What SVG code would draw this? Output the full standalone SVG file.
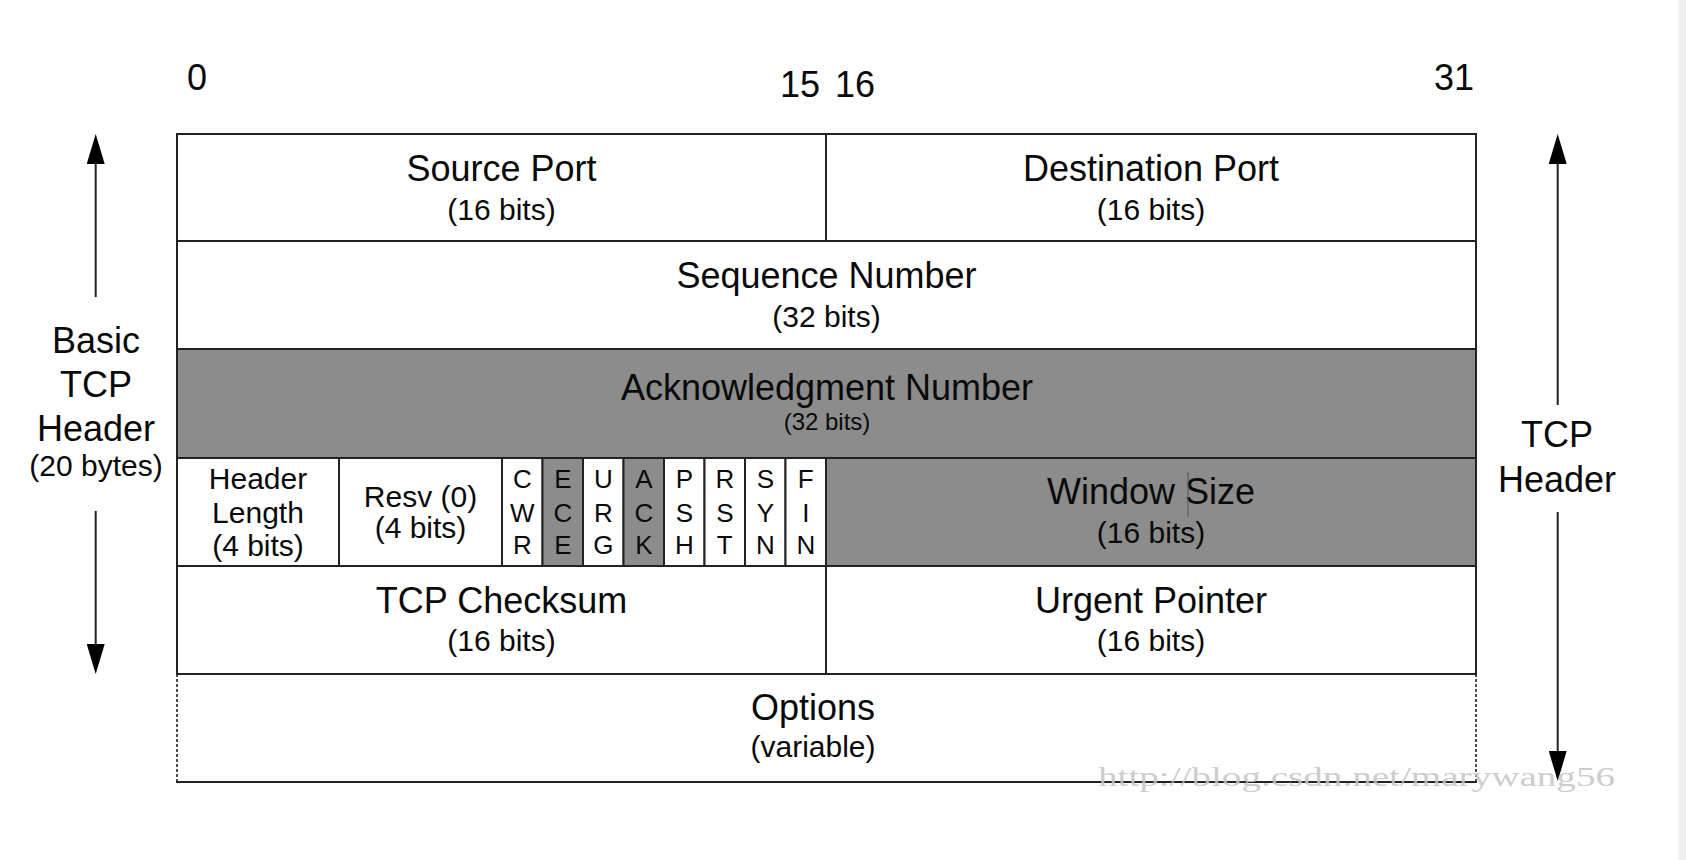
<svg xmlns="http://www.w3.org/2000/svg" width="1686" height="860" viewBox="0 0 1686 860">
<style>
text{font-family:"Liberation Sans",Arial,sans-serif;fill:#0a0a0a;text-anchor:middle}
.lbl{font-size:36px}
.sub{font-size:30px}
.sm{font-size:24px}
.cell{font-size:30px}
.flag{font-size:26px}
.w{fill:#fff;stroke:#222;stroke-width:2}
.g{fill:#8c8c8c;stroke:#222;stroke-width:2}
.ln{stroke:#222;stroke-width:2;fill:none}
.dash{stroke:#222;stroke-width:1.6;stroke-dasharray:3 2;fill:none}
.wm{font-family:"Liberation Serif","Times New Roman",serif;font-size:27px;fill:#c4c4c4;fill-opacity:0.85;text-anchor:start}
</style>
<defs>
<marker id="ah" viewBox="0 0 30 18" refX="26" refY="9" markerWidth="30" markerHeight="18" markerUnits="userSpaceOnUse" orient="auto">
<path d="M0,0 L30,9 L0,18 z" fill="#000"/>
</marker>
</defs>
<rect x="0" y="0" width="1686" height="860" fill="#fff"/>
<rect x="1678" y="0" width="8" height="860" fill="#f0f0f0"/>

<g id="bit-labels">
<text class="lbl" x="197" y="90">0</text>
<text class="lbl" x="800" y="97">15</text>
<text class="lbl" x="855" y="97">16</text>
<text class="lbl" x="1454" y="90">31</text>
</g>

<g id="source-port">
<rect class="w" x="177" y="134" width="649" height="107"/>
<text class="lbl" x="501.5" y="181">Source Port</text>
<text class="sub" x="501.5" y="220">(16 bits)</text>
</g>
<g id="destination-port">
<rect class="w" x="826" y="134" width="650" height="107"/>
<text class="lbl" x="1151" y="181">Destination Port</text>
<text class="sub" x="1151" y="220">(16 bits)</text>
</g>
<g id="sequence-number">
<rect class="w" x="177" y="241" width="1299" height="108"/>
<text class="lbl" x="826.5" y="288">Sequence Number</text>
<text class="sub" x="826.5" y="327">(32 bits)</text>
</g>
<g id="acknowledgment-number">
<rect class="g" x="177" y="349" width="1299" height="109"/>
<text class="lbl" x="827" y="400">Acknowledgment Number</text>
<text class="sm" x="827" y="430">(32 bits)</text>
</g>
<g id="header-length">
<rect class="w" x="177" y="458" width="162" height="108"/>
<text class="cell" x="258" y="489">Header</text>
<text class="cell" x="258" y="523">Length</text>
<text class="cell" x="258" y="556">(4 bits)</text>
</g>
<g id="reserved">
<rect class="w" x="339" y="458" width="163" height="108"/>
<text class="cell" x="420.5" y="507">Resv (0)</text>
<text class="cell" x="420.5" y="538">(4 bits)</text>
</g>
<g id="flag-cwr">
<rect class="w" x="502" y="458" width="40.5" height="108"/>
<text class="flag" x="522.3" y="488">C</text><text class="flag" x="522.3" y="521.5">W</text><text class="flag" x="522.3" y="554">R</text>
</g>
<g id="flag-ece">
<rect class="g" x="542.5" y="458" width="40.5" height="108"/>
<text class="flag" x="562.8" y="488">E</text><text class="flag" x="562.8" y="521.5">C</text><text class="flag" x="562.8" y="554">E</text>
</g>
<g id="flag-urg">
<rect class="w" x="583" y="458" width="40.5" height="108"/>
<text class="flag" x="603.3" y="488">U</text><text class="flag" x="603.3" y="521.5">R</text><text class="flag" x="603.3" y="554">G</text>
</g>
<g id="flag-ack">
<rect class="g" x="623.5" y="458" width="40.5" height="108"/>
<text class="flag" x="643.8" y="488">A</text><text class="flag" x="643.8" y="521.5">C</text><text class="flag" x="643.8" y="554">K</text>
</g>
<g id="flag-psh">
<rect class="w" x="664" y="458" width="40.5" height="108"/>
<text class="flag" x="684.3" y="488">P</text><text class="flag" x="684.3" y="521.5">S</text><text class="flag" x="684.3" y="554">H</text>
</g>
<g id="flag-rst">
<rect class="w" x="704.5" y="458" width="40.5" height="108"/>
<text class="flag" x="724.8" y="488">R</text><text class="flag" x="724.8" y="521.5">S</text><text class="flag" x="724.8" y="554">T</text>
</g>
<g id="flag-syn">
<rect class="w" x="745" y="458" width="40.5" height="108"/>
<text class="flag" x="765.3" y="488">S</text><text class="flag" x="765.3" y="521.5">Y</text><text class="flag" x="765.3" y="554">N</text>
</g>
<g id="flag-fin">
<rect class="w" x="785.5" y="458" width="40.5" height="108"/>
<text class="flag" x="805.8" y="488">F</text><text class="flag" x="805.8" y="521.5">I</text><text class="flag" x="805.8" y="554">N</text>
</g>
<g id="window-size">
<rect class="g" x="826" y="458" width="650" height="108"/>
<text class="lbl" x="1151" y="504">Window Size</text>
<text class="sub" x="1151" y="543">(16 bits)</text>
<line x1="1188" y1="472" x2="1188" y2="517" stroke="#555" stroke-width="1"/>
</g>
<g id="tcp-checksum">
<rect class="w" x="177" y="566" width="649" height="108"/>
<text class="lbl" x="501.5" y="613">TCP Checksum</text>
<text class="sub" x="501.5" y="651">(16 bits)</text>
</g>
<g id="urgent-pointer">
<rect class="w" x="826" y="566" width="650" height="108"/>
<text class="lbl" x="1151" y="613">Urgent Pointer</text>
<text class="sub" x="1151" y="651">(16 bits)</text>
</g>
<g id="options">
<line class="dash" x1="177" y1="674" x2="177" y2="782"/>
<line class="dash" x1="1476" y1="674" x2="1476" y2="782"/>
<line class="ln" x1="176" y1="782" x2="1477" y2="782"/>
<line class="ln" x1="176" y1="674" x2="1477" y2="674"/>
<text class="lbl" x="813" y="720">Options</text>
<text class="sub" x="813" y="757">(variable)</text>
</g>

<g id="basic-tcp-header-label">
<text class="lbl" x="96" y="353">Basic</text>
<text class="lbl" x="96" y="397">TCP</text>
<text class="lbl" x="96" y="441">Header</text>
<text class="sub" x="96" y="476">(20 bytes)</text>
</g>
<g id="tcp-header-label">
<text class="lbl" x="1557" y="447">TCP</text>
<text class="lbl" x="1557" y="492">Header</text>
</g>

<g id="connectors">
<line class="ln" x1="95.7" y1="297" x2="95.7" y2="138" marker-end="url(#ah)"/>
<line class="ln" x1="95.7" y1="511" x2="95.7" y2="670" marker-end="url(#ah)"/>
<line class="ln" x1="1557.7" y1="405" x2="1557.7" y2="138" marker-end="url(#ah)"/>
<line class="ln" x1="1557.7" y1="512" x2="1557.7" y2="777" marker-end="url(#ah)"/>
</g>

<text class="wm" x="1098" y="786" textLength="517" lengthAdjust="spacingAndGlyphs">http://blog.csdn.net/marywang56</text>
</svg>
